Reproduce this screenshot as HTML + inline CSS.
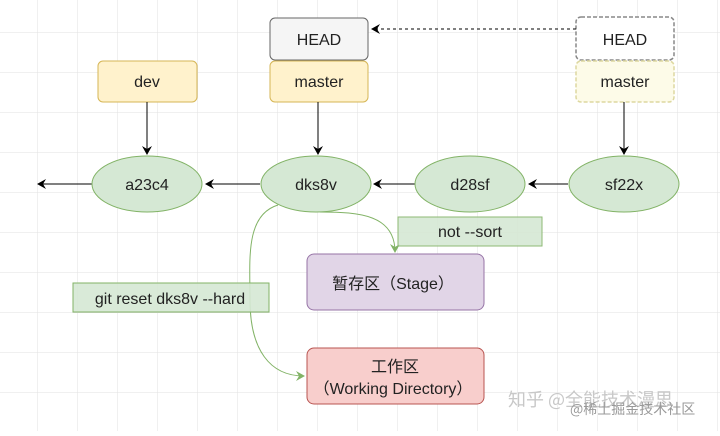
<!DOCTYPE html>
<html><head><meta charset="utf-8"><style>
body{margin:0;width:720px;height:431px;overflow:hidden;background:#fff}
</style></head><body>
<svg width="720" height="431" xmlns="http://www.w3.org/2000/svg" font-family="Liberation Sans, Noto Sans CJK SC, sans-serif">
<defs>
<pattern id="g" width="40" height="40" patternUnits="userSpaceOnUse" x="-2" y="-7">
<path d="M40 0V40M0 40H40" stroke="#e2e2e2" stroke-width="1" fill="none"/>
</pattern>
<marker id="a" markerWidth="10" markerHeight="10" refX="8" refY="5" orient="auto" markerUnits="userSpaceOnUse"><path d="M0,0L9,5L0,10L3,5Z" fill="#000"/></marker>
<marker id="ag" markerWidth="10" markerHeight="10" refX="8" refY="5" orient="auto" markerUnits="userSpaceOnUse"><path d="M0,0L9,5L0,10L3,5Z" fill="#82b366"/></marker>
</defs>
<rect width="720" height="431" fill="url(#g)"/>
<g font-size="16" text-anchor="middle" fill="#222">
<rect x="270" y="18" width="98" height="42" rx="5" fill="#f5f5f5" stroke="#666"/>
<text x="319" y="45">HEAD</text>
<rect x="270" y="61" width="98" height="41" rx="5" fill="#fff2cc" stroke="#d6b656"/>
<text x="319" y="87">master</text>
<rect x="98" y="61" width="99" height="41" rx="5" fill="#fff2cc" stroke="#d6b656"/>
<text x="147" y="87">dev</text>
<rect x="576" y="17" width="98" height="43" rx="5" fill="#fff" stroke="#888" stroke-dasharray="4,2" stroke-width="1.5"/>
<text x="625" y="45">HEAD</text>
<rect x="576" y="61" width="98" height="41" rx="5" fill="#fdfbe8" stroke="#ddd8a0" stroke-dasharray="4,2" stroke-width="1.5"/>
<text x="625" y="87">master</text>
<line x1="576" y1="29" x2="372" y2="29" stroke="#000" stroke-dasharray="3,3" marker-end="url(#a)"/>
<line x1="147" y1="102" x2="147" y2="154" stroke="#000" marker-end="url(#a)"/>
<line x1="318" y1="102" x2="318" y2="154" stroke="#000" marker-end="url(#a)"/>
<line x1="624" y1="102" x2="624" y2="154" stroke="#000" marker-end="url(#a)"/>
<line x1="92" y1="184" x2="38" y2="184" stroke="#000" marker-end="url(#a)"/>
<line x1="260" y1="184" x2="206" y2="184" stroke="#000" marker-end="url(#a)"/>
<line x1="415" y1="184" x2="374" y2="184" stroke="#000" marker-end="url(#a)"/>
<line x1="568" y1="184" x2="529" y2="184" stroke="#000" marker-end="url(#a)"/>
<g fill="#d5e8d4" stroke="#82b366">
<ellipse cx="147" cy="184" rx="55" ry="28"/>
<ellipse cx="316" cy="184" rx="55" ry="28"/>
<ellipse cx="470" cy="184" rx="55" ry="28"/>
<ellipse cx="624" cy="184" rx="55" ry="28"/>
</g>
<text x="147" y="190">a23c4</text>
<text x="316" y="190">dks8v</text>
<text x="470" y="190">d28sf</text>
<text x="624" y="190">sf22x</text>
<path d="M320 212 C360 212 395 215 395 252" fill="none" stroke="#82b366" marker-end="url(#ag)"/>
<path d="M278 205 C245 215 250 260 250 300 C250 350 270 376 304 376" fill="none" stroke="#82b366" marker-end="url(#ag)"/>
<rect x="398" y="217" width="144" height="29" fill="#d5e8d4" stroke="#82b366" opacity="0.9"/>
<text x="470" y="237">not --sort</text>
<rect x="307" y="254" width="177" height="56" rx="7" fill="#e1d5e7" stroke="#9673a6"/>
<text x="393" y="289">暂存区（Stage）</text>
<rect x="73" y="283" width="196" height="29" fill="#d5e8d4" stroke="#82b366" fill-opacity="0.9"/>
<text x="170" y="304">git reset dks8v --hard</text>
<rect x="307" y="348" width="177" height="56" rx="7" fill="#f8cecc" stroke="#b85450"/>
<text x="395" y="372">工作区</text>
<text x="393" y="394">（Working Directory）</text>
</g>
<text x="508" y="406" font-size="18" fill="#c8c8c8" font-family="Noto Sans CJK SC, sans-serif">知乎 @全能技术漫思</text>
<text x="570" y="414" font-size="14" fill="#999" font-family="Noto Sans CJK SC, sans-serif">@稀土掘金技术社区</text>
</svg>
</body></html>
